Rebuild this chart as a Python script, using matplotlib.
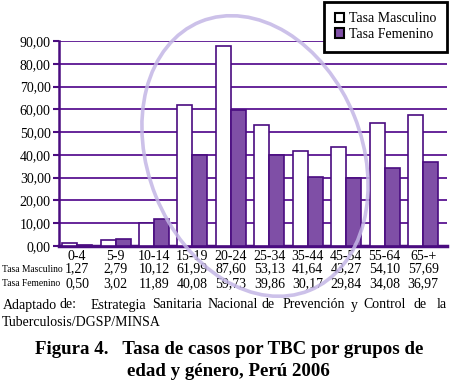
"""Tasa de casos por TBC por grupos de edad y genero, Peru 2006."""
import matplotlib
matplotlib.use('Agg')
import matplotlib.pyplot as plt
import numpy as np
from matplotlib.patches import Ellipse
from matplotlib.ticker import FuncFormatter
import matplotlib.transforms as mtransforms

GROUPS = ['0-4', '5-9', '10-14', '15-19', '20-24', '25-34', '35-44',
          '45-54', '55-64', '65-+']
MASC = [1.27, 2.79, 10.12, 61.99, 87.60, 53.13, 41.64, 43.27, 54.10, 57.69]
FEM = [0.50, 3.02, 11.89, 40.08, 59.73, 39.86, 30.17, 29.84, 34.08, 36.97]
LABELS = ['Tasa Masculino', 'Tasa Femenino']

SOURCE_1 = ['Adaptado', 'de:', 'Estrategia', 'Sanitaria', 'Nacional', 'de',
            'Prevención', 'y', 'Control', 'de', 'la']
SOURCE_2 = 'Tuberculosis/DGSP/MINSA'
TITLE = ['Figura 4.   Tasa de casos por TBC por grupos de',
         'edad y género, Perú 2006']

PURPLE = '#7f4fa6'
EDGE = '#4a0c80'
GRID = '#5a1592'


def fmt(v):
    return f'{v:.2f}'.replace('.', ',')


def main():
    plt.rcParams['font.family'] = ['Liberation Serif', 'DejaVu Serif']
    fig = plt.figure(figsize=(4.5, 3.85), dpi=100)
    ax = fig.add_axes([59 / 450, 1 - 246 / 385, 388 / 450, 205 / 385])

    x = np.arange(len(GROUPS))
    w = 0.39
    b1 = ax.bar(x - w / 2, MASC, w, color='white', edgecolor=EDGE,
                linewidth=1.2, zorder=3, label=LABELS[0])
    b2 = ax.bar(x + w / 2, FEM, w, color=PURPLE, edgecolor=EDGE,
                linewidth=1.2, zorder=3, label=LABELS[1])

    ax.set_xlim(-0.47, 9.62)
    ax.set_ylim(0, 90)
    ax.set_yticks(np.arange(0, 91, 10))
    ax.yaxis.set_major_formatter(FuncFormatter(lambda v, p: fmt(v)))
    ax.set_xticks([])
    ax.tick_params(axis='y', length=4, width=1.5, color=EDGE, labelsize=10,
                   pad=2)
    ax.yaxis.grid(True, color=GRID, linewidth=1.3, zorder=0)
    ax.set_axisbelow(True)
    for s in ('top', 'right'):
        ax.spines[s].set_visible(False)
    ax.spines['left'].set_color(EDGE)
    ax.spines['left'].set_linewidth(1.8)
    ax.spines['bottom'].set_color(EDGE)
    ax.spines['bottom'].set_linewidth(2.5)

    # data table under the axis
    trans = mtransforms.blended_transform_factory(ax.transData, ax.transAxes)
    for i, g in enumerate(GROUPS):
        ax.text(i, -0.05, g, transform=trans, ha='center', va='center',
                fontsize=10)
        ax.text(i, -0.113, fmt(MASC[i]), transform=trans, ha='center',
                va='center', fontsize=10)
        ax.text(i, -0.186, fmt(FEM[i]), transform=trans, ha='center',
                va='center', fontsize=10)
    fig.text(2 / 450, 1 - 269 / 385, LABELS[0], ha='left', va='center',
             fontsize=6.9)
    fig.text(2 / 450, 1 - 284 / 385, LABELS[1], ha='left', va='center',
             fontsize=6.9)

    leg = ax.legend(handles=[b1, b2], loc='upper right',
                    bbox_to_anchor=(447 / 450, 1 - 2 / 385),
                    bbox_transform=fig.transFigure, fancybox=False,
                    framealpha=1, edgecolor='black', fontsize=10,
                    handlelength=0.7, handleheight=0.7, handletextpad=0.35,
                    borderpad=0.75, labelspacing=0.2, borderaxespad=0)
    leg.get_frame().set_linewidth(2)
    for h in leg.legend_handles:
        h.set_edgecolor('black')
        h.set_linewidth(1.5)

    # decorative ellipse
    ell = Ellipse((2.55, 3.85 - 1.56), 2.9, 2.14, angle=112,
                  transform=fig.dpi_scale_trans, fill=False,
                  edgecolor='#c4b6e6', linewidth=2.6, alpha=0.85, zorder=5)
    fig.add_artist(ell)

    # justified source line, word by word
    word_x = [3, 60, 91, 152, 208, 262, 283, 351, 363, 413, 437]
    for wx, word in zip(word_x, SOURCE_1):
        fig.text(wx / 450, 1 - 305 / 385, word, ha='left', va='center',
                 fontsize=10)
    fig.text(2 / 450, 1 - 323 / 385, SOURCE_2, ha='left', va='center',
             fontsize=10)

    fig.text(229 / 450, 1 - 350 / 385, TITLE[0], ha='center', va='center',
             fontsize=13.6, fontweight='bold')
    fig.text(228 / 450, 1 - 371 / 385, TITLE[1], ha='center', va='center',
             fontsize=13.6, fontweight='bold')

    fig.savefig('out.png', dpi=100)


if __name__ == '__main__':
    main()
